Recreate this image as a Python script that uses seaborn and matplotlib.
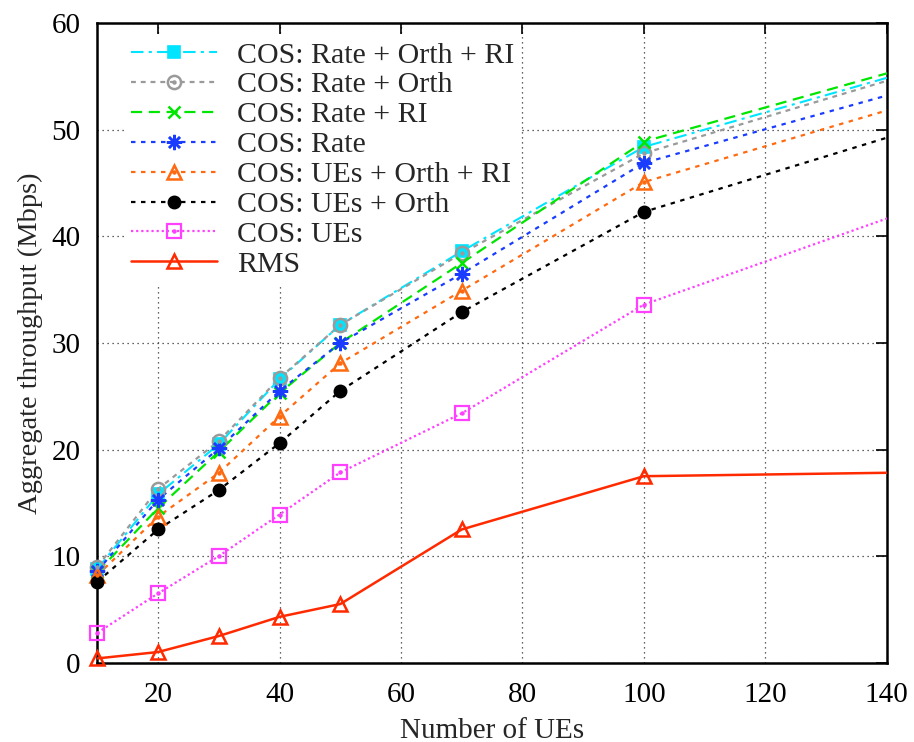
import matplotlib
matplotlib.use("Agg")
import numpy as np
import pandas as pd
import matplotlib.pyplot as plt
import seaborn as sns
from matplotlib.lines import Line2D
from matplotlib.legend_handler import HandlerTuple

# ---------------- data ----------------
ues = [10, 20, 30, 40, 50, 70, 100, 150]
rate_orth_ri = [8.8, 15.8, 20.5, 26.6, 31.7, 38.6, 48.4, 56.5]
rate_orth = [9.0, 16.3, 20.8, 26.7, 31.7, 38.4, 47.8, 56.3]
rate_ri = [8.5, 14.5, 19.8, 25.3, 30.0, 37.5, 48.9, 56.9]
rate = [8.6, 15.3, 20.1, 25.5, 30.0, 36.5, 46.9, 54.8]
ues_orth_ri = [8.2, 13.7, 17.8, 23.1, 28.1, 34.9, 45.1, 53.5]
ues_orth = [7.6, 12.5, 16.2, 20.6, 25.5, 32.9, 42.3, 51.0]
ues_only = [2.8, 6.5, 10.0, 13.9, 17.85, 23.4, 33.6, 43.7]
rms = [0.4, 1.0, 2.5, 4.3, 5.5, 12.5, 17.5, 17.9]

labels = ["COS: Rate + Orth + RI", "COS: Rate + Orth", "COS: Rate + RI",
          "COS: Rate", "COS: UEs + Orth + RI", "COS: UEs + Orth",
          "COS: UEs", "RMS"]
values = [rate_orth_ri, rate_orth, rate_ri, rate, ues_orth_ri, ues_orth,
          ues_only, rms]

x_ticks = [20, 40, 60, 80, 100, 120, 140]
y_ticks = [0, 10, 20, 30, 40, 50, 60]

# ---------------- styles ----------------
styles = [
    dict(color="#00e5ff", ls=(0, (6, 2.5, 1.5, 2.5)), lw=1.5, marker="s", ms=8.5, mfc="#00e5ff", mew=1.2, dot=False),
    dict(color="#9a9a9a", ls=(0, (2.2, 2.2)), lw=1.6, marker="o", ms=9.5, mfc="none", mew=1.8, dot=True),
    dict(color="#00e600", ls=(0, (5, 3)), lw=1.6, marker="x", ms=9, mfc="none", mew=1.8, dot=False),
    dict(color="#1a3cff", ls=(0, (2, 2.5)), lw=1.6, marker=(8, 2, 0), ms=11, mfc="none", mew=1.8, dot=False),
    dict(color="#ff6a10", ls=(0, (2, 2.5)), lw=1.6, marker="^", ms=10, mfc="none", mew=1.8, dot=True),
    dict(color="#000000", ls=(0, (2, 2.5)), lw=1.6, marker="o", ms=9, mfc="#000000", mew=1.0, dot=False),
    dict(color="#ff40ff", ls=(0, (1, 1.3)), lw=1.6, marker="s", ms=9.5, mfc="none", mew=1.6, dot=True),
    dict(color="#ff2a00", ls="-", lw=1.8, marker="^", ms=10, mfc="none", mew=1.8, dot=False),
]

sns.set_style("white")
plt.rcParams["font.family"] = ["Liberation Serif", "DejaVu Serif"]

fig = plt.figure(figsize=(9.14, 7.42), dpi=100)
ax = fig.add_axes([0.1065, 0.1069, 0.8637, 0.8617])

xmin, xmax = 10, 140
handles = []
for lab, vals, st in zip(labels, values, styles):
    df = pd.DataFrame({"x": ues, "y": vals})
    sns.lineplot(data=df, x="x", y="y", ax=ax, color=st["color"],
                 linestyle=st["ls"], linewidth=st["lw"], legend=False,
                 estimator=None, sort=True, zorder=3)
    vis = df[(df.x >= xmin) & (df.x <= xmax)]
    ax.plot(vis.x, vis.y, linestyle="none", marker=st["marker"],
            markersize=st["ms"], markerfacecolor=st["mfc"],
            markeredgecolor=st["color"], markeredgewidth=st["mew"],
            clip_on=False, zorder=4)
    proxy = Line2D([], [], color=st["color"], linestyle=st["ls"],
                   linewidth=st["lw"], marker=st["marker"],
                   markersize=st["ms"], markerfacecolor=st["mfc"],
                   markeredgecolor=st["color"], markeredgewidth=st["mew"])
    if st["dot"]:
        ax.plot(vis.x, vis.y, linestyle="none", marker="o", markersize=2.2,
                color=st["color"], clip_on=False, zorder=5)
        dproxy = Line2D([], [], linestyle="none", marker="o", markersize=2.2,
                        color=st["color"])
        handles.append((proxy, dproxy))
    else:
        handles.append(proxy)

ax.set_xlim(xmin, xmax)
ax.set_ylim(0, 60)
ax.set_xticks(x_ticks)
ax.set_yticks(y_ticks)
ax.set_xticklabels([str(t) for t in x_ticks])
ax.set_yticklabels([str(t) for t in y_ticks])

ax.grid(True, color="#333333", linestyle=(0, (1, 3)), linewidth=0.9)
ax.set_axisbelow(True)
for sp in ax.spines.values():
    sp.set_visible(True)
    sp.set_color("black")
    sp.set_linewidth(1.8)

ax.tick_params(direction="in", length=8, width=1.2, top=True, right=True,
               labelsize=21, colors="black")
ax.tick_params(axis="y", pad=12)
ax.tick_params(axis="x", pad=14)

ax.set_xlabel("Number of UEs", fontsize=21, labelpad=7)
ax.set_ylabel("Aggregate throughput (Mbps)", fontsize=20.5, labelpad=6)

leg = ax.legend(handles, labels, loc="upper left",
                bbox_to_anchor=(0.016, 1.004), fontsize=21.5,
                handlelength=2.88, handletextpad=0.68, labelspacing=0.1,
                borderpad=0.2, frameon=True, fancybox=False,
                framealpha=1.0, edgecolor="none", facecolor="white",
                numpoints=1,
                handler_map={tuple: HandlerTuple(ndivide=1)})
leg.set_zorder(2)

fig.savefig("out.png", dpi=100)
